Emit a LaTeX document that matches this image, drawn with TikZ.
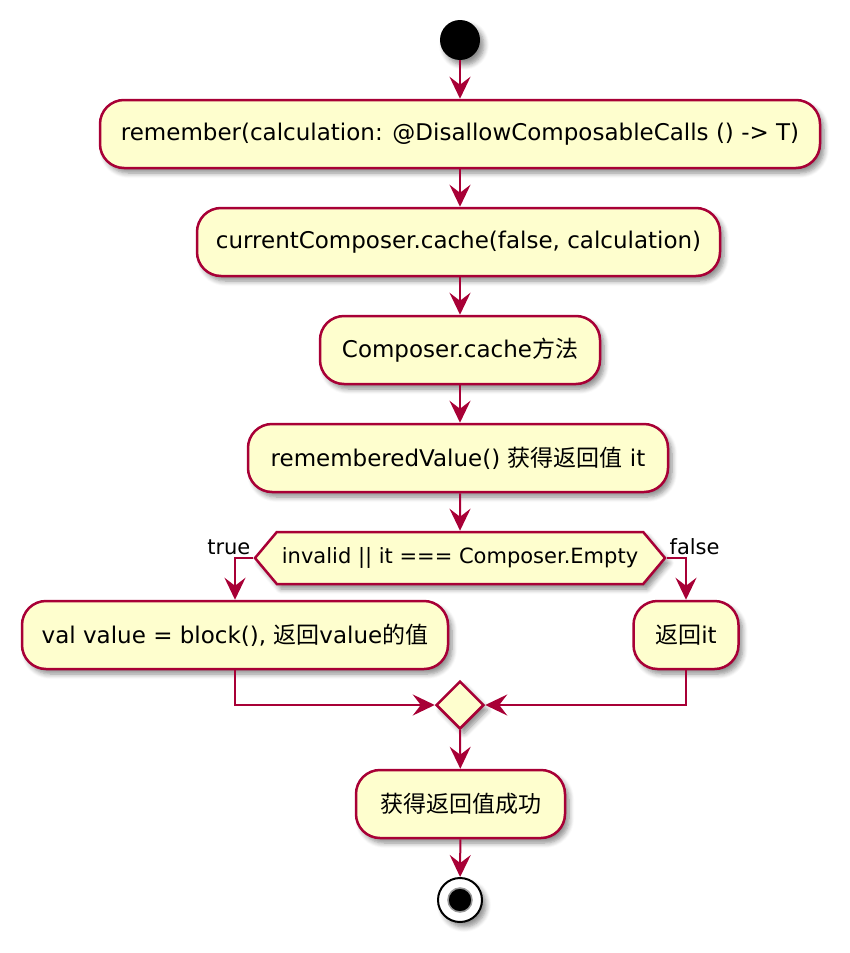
\documentclass[tikz,border=0pt]{standalone}
\usepackage{fontspec}
\setmainfont{DejaVu Sans}
\newfontfamily\cjk{Noto Sans CJK SC}
\usetikzlibrary{arrows.meta,positioning,shapes.geometric,shapes.symbols,shadows.blur}
\definecolor{umlred}{HTML}{A80036}
\definecolor{umlfill}{HTML}{FEFECE}
\tikzset{>/.tip={Stealth[length=22pt,width=21pt,inset=8pt]}}
\tikzset{shade/.style={blur shadow={shadow xshift=4pt,shadow yshift=-5pt,shadow blur radius=5pt,shadow blur steps=6,shadow opacity=45}}}
\tikzset{act/.style={draw=umlred,fill=umlfill,line width=2.5pt,rounded corners=24pt,
    minimum height=68pt,font=\fontsize{23}{26}\selectfont,shade}}
\tikzset{cond/.style={signal,signal to=west and east,signal pointer angle=100,draw=umlred,
    fill=umlfill,line width=2.5pt,minimum height=52pt,inner sep=0pt,font=\fontsize{21}{24}\selectfont,shade}}
\tikzset{merge/.style={diamond,draw=umlred,fill=umlfill,line width=2.5pt,minimum size=48pt,inner sep=0pt,shade}}
\tikzset{flow/.style={draw=umlred,line width=2pt,->}}
\tikzset{lbl/.style={font=\fontsize{21}{24}\selectfont,inner sep=2pt}}
\newcommand\zh[1]{{\cjk #1}}

\begin{document}
\begin{tikzpicture}[x=1pt,y=-1pt]
        \useasboundingbox (0,0) rectangle (850,953);
        \node(start)[circle,fill=black,minimum size=40pt,inner sep=0pt,shade] at (460,40){};
        \node(remember)[act,minimum width=720pt] at (460,134)
          {remember(calculation: @DisallowComposableCalls () -> T)};
        \node(cache)[act,minimum width=523pt] at (458.5,242)
          {currentComposer.cache(false, calculation)};
        \node(method)[act,minimum width=280pt] at (460,350)
          {Composer.cache\zh{方法}};
        \node(value)[act,minimum width=420pt] at (458,458)
          {rememberedValue() \zh{获得返回值} it};
        \node(test)[cond,minimum width=410pt] at (460,558)
          {invalid || it === Composer.Empty};
        \node(block)[act,minimum width=426pt] at (235,635)
          {val value = block(), \zh{返回}value\zh{的值}};
        \node(ret)[act,minimum width=105pt] at (686,635)
          {\zh{返回}it};
        \node(join)[merge] at (460,705){};
        \node(done)[act,minimum width=209pt] at (460.5,804)
          {\zh{获得返回值成功}};
        \node(stop)[circle,draw=black,fill=white,line width=2pt,minimum size=44pt,inner sep=0pt,shade] at (460,900){};
        \node(stopdot)[circle,fill=black,draw=black!40,line width=1.5pt,minimum size=24pt,inner sep=0pt] at (stop){};
        \draw[flow] (start) -- (remember);
        \draw[flow] (remember) -- (cache.north -| remember);
        \draw[flow] (cache.south -| remember) -- (method);
        \draw[flow] (method) -- (value.north -| method);
        \draw[flow] (value.south -| method) -- (test);
        \draw[flow] (test.west) node[lbl,above left]{true} -| (block.north);
        \draw[flow] (test.east) node[lbl,above right]{false} -| (ret.north);
        \draw[flow] (block.south) |- (join.west);
        \draw[flow] (ret.south) |- (join.east);
        \draw[flow] (join) -- (done);
        \draw[flow] (done) -- (stop);
      \end{tikzpicture}
\end{document}
